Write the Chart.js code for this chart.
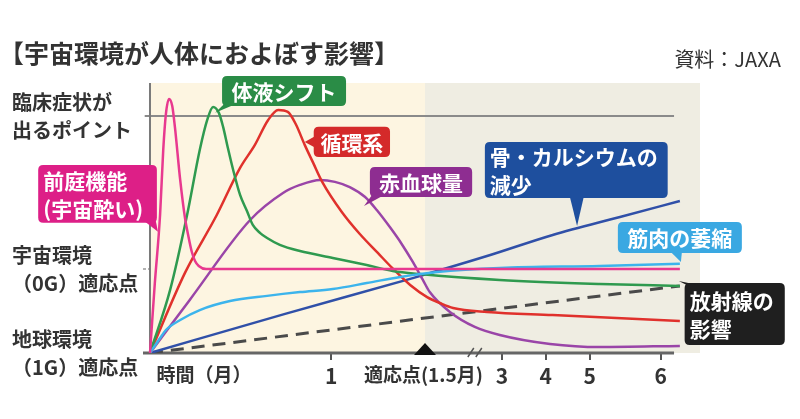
<!DOCTYPE html>
<html lang="ja">
<head>
<meta charset="utf-8">
<script src="https://cdn.jsdelivr.net/npm/chart.js@4"></script>
<style>
  html, body { margin: 0; padding: 0; background: #fff; }
  #wrap { position: relative; width: 800px; height: 419px; font-family: "Noto Sans CJK JP", sans-serif; color: #333; }
  #title { position: absolute; left: -1px; top: 36px; font-size: 25px; font-weight: bold; line-height: 32px; white-space: nowrap; }
  #source { position: absolute; right: 19px; top: 46px; font-size: 20px; line-height: 26px; white-space: nowrap; }
  canvas { position: absolute; left: 0; top: 0; }
</style>
</head>
<body>
<div id="wrap">
  <canvas id="chart" width="800" height="419"></canvas>
  <div id="title">【宇宙環境が人体におよぼす影響】</div>
  <div id="source">資料：JAXA</div>
</div>
<script>
/* 宇宙環境が人体におよぼす影響 (資料: JAXA) */

// 横軸: 0 = 打ち上げ, 100 = 6ヵ月 (1.5月以降は目盛りを詰めて描いている)
const xTickPos    = [10.2, 34.2, 51.6, 66.4, 74.7, 83.0, 96.4];
const xTickLabels = ['時間（月）', '1', '適応点(1.5月)', '3', '4', '5', '6'];
const xTickMarked = [false, true, false, true, true, true, true];

// 縦軸: 0 = 地球環境(1G)適応点, 35.4 = 宇宙環境(0G)適応点, 100 = 臨床症状が出るポイント
const yTickPos    = [0, 35.4, 100];
const yTickLabels = [
  ['地球環境', '（1G）適応点'],
  ['宇宙環境', '（0G）適応点'],
  ['臨床症状が', '出るポイント']
];

const adaptPoint = 51.9;   // 適応点 (1.5月)
const breakPoint = 61.3;   // 目盛り省略 (//)

// 各影響の推移 [x, y]
const vestibular = [[0,0],[0.9,29.1],[1.9,58.2],[2.5,85.7],[3.0,100.8],[3.6,107.2],[4.2,104.2],[4.7,95.4],
  [5.7,73.0],[6.6,57.0],[7.2,49.8],[7.9,42.6],[8.5,38.8],[9.2,36.7],[10.6,35.4],[30,35.4],[60,35.4],[100,35.4]];
const fluidShift = [[0,0],[3.8,26.6],[7.0,58.2],[9.4,85.7],[10.8,98.3],[11.9,103.8],[13.0,101.3],[13.8,95.4],
  [14.7,86.5],[15.7,77.2],[17.0,66.7],[18.3,59.9],[19.4,54.0],[20.8,50.6],[22.1,48.5],[24.5,45.6],[28.3,43.0],
  [34.5,40.1],[40.9,37.1],[45.8,34.6],[50.9,33.3],[66.0,30.8],[84.9,29.1],[100,28.3]];
const circulation = [[0,0],[6.6,33.8],[12.6,58.2],[17.0,78.1],[19.8,87.8],[22.3,98.3],[24.2,102.5],[26.0,101.7],
  [27.5,96.6],[29.2,87.8],[30.8,80.2],[32.5,72.2],[36.2,59.5],[39.6,50.2],[43.0,42.2],[45.7,35.9],[49.1,28.7],
  [52.3,23.6],[54.7,21.1],[57.2,19.0],[63.6,17.3],[76.0,16.0],[100,13.5]];
const redCells = [[0,0],[7.5,22.4],[18.9,56.1],[25.1,67.5],[28.3,70.9],[32.1,73.0],[34.9,72.2],[37.7,70.0],
  [40.6,65.8],[42.8,60.3],[45.3,53.0],[47.5,46.0],[49.6,38.4],[51.5,30.8],[52.8,25.7],[56.6,17.3],[61.3,11.0],
  [66.0,7.6],[75.5,3.8],[84.9,2.5],[100,3.0]];
const boneLoss = [[0,0],[25.5,16.5],[49.6,31.6],[63.6,40.9],[76.0,49.8],[88.7,57.4],[100,64.1]];
const muscle = [[0,0],[0.9,3.0],[1.9,6.3],[3.0,9.7],[5.7,13.9],[9.4,18.1],[15.1,21.9],[22.1,24.1],[28.3,25.7],
  [34.5,27.0],[40.9,29.5],[47.2,32.1],[54.2,34.2],[66.0,35.9],[84.9,36.7],[100,37.6]];
const radiation = [[0,0],[50,14.2],[100,28.3]];

const toXY = a => a.map(([x, y]) => ({ x, y }));

// 吹き出し: box = [左, 上, 右, 下], tail = 三角の3点 (いずれもデータ座標)
const callouts = [
  { lines: ['体液シフト'], color: '#2a8c46', box: [13.6, 116.9, 37.0, 104.2], tail: [[14.0,105],[16.2,105],[12.3,101.3]] },
  { lines: ['循環系'], color: '#d42a2a', box: [30.9, 95.4, 45.3, 82.7], tail: [[31.3,91.6],[31.3,86.5],[29.2,89.0]] },
  { lines: ['前庭機能', '(宇宙酔い)'], color: '#dd1f87', box: [-21.1, 79.3, 1.3, 54.9], tail: [[-1.1,55.7],[1.1,55.7],[1.5,51.1]] },
  { lines: ['赤血球量'], color: '#8e2d91', box: [41.5, 78.5, 60.8, 65.8], tail: [[41.9,66.7],[44.2,66.7],[40.4,62.0]] },
  { lines: ['骨・カルシウムの', '減少'], color: '#1e4f9e', box: [63.2, 89.0, 97.7, 65.4], tail: [[79.2,66.2],[81.9,66.2],[80.6,53.6]] },
  { lines: ['筋肉の萎縮'], color: '#3aa8e2', box: [88.3, 55.3, 111.7, 42.2], tail: [[98.1,43.0],[100.4,43.0],[100.2,38.4]] },
  { lines: ['放射線の', '影響'], color: '#1f1f1f', box: [100.9, 29.5, 119.8, 3.4], tail: [[101.3,28.7],[103.4,28.7],[99.8,30.4]] }
];

const FONT = '"Noto Sans CJK JP", sans-serif';

function roundedRect(ctx, x, y, w, h, r) {
  ctx.beginPath();
  ctx.moveTo(x + r, y);
  ctx.lineTo(x + w - r, y);
  ctx.quadraticCurveTo(x + w, y, x + w, y + r);
  ctx.lineTo(x + w, y + h - r);
  ctx.quadraticCurveTo(x + w, y + h, x + w - r, y + h);
  ctx.lineTo(x + r, y + h);
  ctx.quadraticCurveTo(x, y + h, x, y + h - r);
  ctx.lineTo(x, y + r);
  ctx.quadraticCurveTo(x, y, x + r, y);
  ctx.closePath();
}

// 背景 (適応点までは黄色、以降は灰色)
const backdrop = {
  id: 'backdrop',
  beforeDraw(chart) {
    const { ctx, chartArea, scales: { x } } = chart;
    const x0 = x.getPixelForValue(0);
    const xa = x.getPixelForValue(adaptPoint);
    const h = chartArea.bottom - chartArea.top;
    ctx.save();
    ctx.fillStyle = '#fdf5e1';
    ctx.fillRect(x0, chartArea.top, xa - x0, h);
    ctx.fillStyle = '#efede2';
    ctx.fillRect(xa, chartArea.top, chartArea.right - xa, h);
    ctx.restore();
  }
};

// 適応点の▲と目盛り省略の //
const axisMarks = {
  id: 'axisMarks',
  afterDatasetsDraw(chart) {
    const { ctx, scales: { x, y } } = chart;
    const by = y.getPixelForValue(0);
    const ax = x.getPixelForValue(adaptPoint);
    ctx.save();
    ctx.fillStyle = '#111';
    ctx.beginPath();
    ctx.moveTo(ax - 11, by + 2);
    ctx.lineTo(ax + 11, by + 2);
    ctx.lineTo(ax, by - 10);
    ctx.closePath();
    ctx.fill();

    const bx = x.getPixelForValue(breakPoint);
    ctx.strokeStyle = '#555';
    ctx.lineWidth = 1.5;
    ctx.beginPath();
    ctx.moveTo(bx - 7, by + 4); ctx.lineTo(bx - 1, by - 5);
    ctx.moveTo(bx + 1, by + 4); ctx.lineTo(bx + 7, by - 5);
    ctx.stroke();
    ctx.restore();
  }
};

// 吹き出しラベル
const calloutLabels = {
  id: 'calloutLabels',
  afterDraw(chart) {
    const { ctx, scales: { x, y } } = chart;
    ctx.save();
    callouts.forEach(function(c) {
      const l = x.getPixelForValue(c.box[0]), t = y.getPixelForValue(c.box[1]);
      const r = x.getPixelForValue(c.box[2]), b = y.getPixelForValue(c.box[3]);
      ctx.fillStyle = c.color;
      roundedRect(ctx, l, t, r - l, b - t, 5);
      ctx.fill();
      ctx.beginPath();
      c.tail.forEach(function(p, i) {
        const px = x.getPixelForValue(p[0]), py = y.getPixelForValue(p[1]);
        if (i === 0) ctx.moveTo(px, py); else ctx.lineTo(px, py);
      });
      ctx.closePath();
      ctx.fill();

      ctx.fillStyle = '#fff';
      ctx.font = 'bold 21px ' + FONT;
      ctx.textBaseline = 'middle';
      const lh = 28;
      const mid = (t + b) / 2;
      const start = mid - (c.lines.length - 1) * lh / 2;
      c.lines.forEach(function(s, i) {
        if (c.lines.length === 1) {
          ctx.textAlign = 'center';
          ctx.fillText(s, (l + r) / 2, start + 1);
        } else {
          ctx.textAlign = 'left';
          ctx.fillText(s, l + 5, start + i * lh + 1);
        }
      });
    });
    ctx.restore();
  }
};

const curve = (data, color, extra) => Object.assign({
  data: toXY(data),
  borderColor: color,
  borderWidth: 2.5,
  pointRadius: 0,
  cubicInterpolationMode: 'monotone',
  order: 1
}, extra || {});

const guide = (data, color, width, extra) => Object.assign({
  data: toXY(data),
  borderColor: color,
  borderWidth: width,
  pointRadius: 0,
  tension: 0,
  clip: false,
  order: 10
}, extra || {});

new Chart(document.getElementById('chart'), {
  type: 'line',
  data: {
    datasets: [
      curve(vestibular, '#e8398f', { order: 0 }),
      curve(muscle, '#3cb4ec'),
      curve(fluidShift, '#2f9a4f'),
      curve(circulation, '#e0312c'),
      curve(redCells, '#9a45a8'),
      curve(boneLoss, '#3050a8'),
      curve(radiation, '#4a4a4a', { borderWidth: 3, borderDash: [13, 8], cubicInterpolationMode: 'default', tension: 0 }),
      guide([[0, 0], [0, 113.9]], '#7a7a7a', 2),
      guide([[-1.0, yTickPos[2]], [98.9, yTickPos[2]]], '#8a8a8a', 2),
      guide([[-1.32, yTickPos[1]], [0, yTickPos[1]]], '#999', 1.5, { borderDash: [3, 2] }),
      guide([[-1.32, yTickPos[0]], [98.9, yTickPos[0]]], '#666', 3)
    ]
  },
  plugins: [backdrop, axisMarks, calloutLabels],
  options: {
    responsive: false,
    animation: false,
    devicePixelRatio: 1,
    layout: { padding: { left: 12, right: 100, top: 83, bottom: 26 } },
    plugins: { legend: { display: false }, tooltip: { enabled: false } },
    scales: {
      x: {
        type: 'linear',
        min: -1.32,
        max: 103.8,
        afterBuildTicks: s => { s.ticks = xTickPos.map(v => ({ value: v })); },
        afterFit: s => { s.height = 40; },
        border: { display: false },
        grid: {
          drawOnChartArea: false,
          tickLength: 7,
          lineWidth: 2,
          color: c => xTickMarked[c.index] ? '#555' : 'rgba(0,0,0,0)'
        },
        ticks: {
          autoSkip: false,
          maxRotation: 0,
          minRotation: 0,
          padding: 3,
          color: '#333',
          font: c => xTickMarked[c.index]
            ? { family: FONT, size: 21, weight: 'bold' }
            : { family: FONT, size: 19, weight: 'bold' },
          callback: (v, i) => xTickLabels[i]
        }
      },
      y: {
        min: 0,
        max: 113.9,
        afterBuildTicks: s => { s.ticks = yTickPos.map(v => ({ value: v })); },
        afterFit: s => { s.width = 131; },
        border: { display: false },
        grid: { display: false },
        ticks: {
          crossAlign: 'far',
          color: '#333',
          font: { family: FONT, size: 20, weight: 'bold', lineHeight: 1.4 },
          callback: (v, i) => yTickLabels[i]
        }
      }
    }
  }
});
</script>
</body>
</html>
